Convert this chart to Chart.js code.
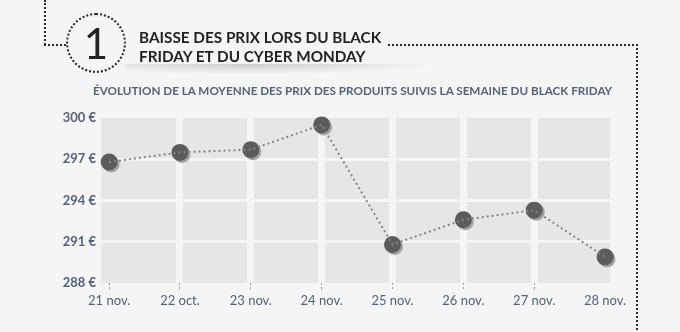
<!DOCTYPE html>
<html>
<head>
<meta charset="utf-8">
<script src="https://cdn.jsdelivr.net/npm/chart.js@4"></script>
<style>
  html, body { margin: 0; padding: 0; background: #f5f5f5; }
  .wrap { position: relative; width: 680px; height: 332px; overflow: hidden; background: #f5f5f5; font-family: Lato, "Open Sans", sans-serif; }
  .wrap canvas { position: absolute; left: 0; top: 0; }
  .dot-v { position: absolute; border-left: 2px dotted #2a2a2a; width: 0; }
  .dot-h { position: absolute; border-top: 2px dotted #2a2a2a; height: 0; }
  .circle { position: absolute; left: 66px; top: 13px; width: 56px; height: 56px; border: 2px dotted #2a2a2a; border-radius: 50%; text-align: center; font-size: 42px; font-weight: 400; line-height: 56px; color: #222; }
  .title { position: absolute; left: 139px; top: 28px; font-size: 15.3px; font-weight: 700; line-height: 19px; color: #222; }
  .shade { position: absolute; left: 125px; top: 64px; width: 310px; height: 10px; background: radial-gradient(ellipse at 40% 0%, rgba(0,0,0,0.16), rgba(0,0,0,0) 70%); }
  .subtitle { position: absolute; left: 93px; top: 83px; font-size: 11.7px; font-weight: 700; color: #53627a; white-space: nowrap; }
</style>
</head>
<body>
<div class="wrap">
  <canvas id="priceChart" width="680" height="332"></canvas>
  <div class="dot-v" style="left:44px; top:0; height:45px;"></div>
  <div class="dot-h" style="left:44px; top:44px; width:22px;"></div>
  <div class="circle">1</div>
  <div class="title">BAISSE DES PRIX LORS DU BLACK<br>FRIDAY ET DU CYBER MONDAY</div>
  <div class="dot-h" style="left:388px; top:44px; width:250px;"></div>
  <div class="dot-v" style="left:636px; top:44px; height:290px;"></div>
  <div class="shade"></div>
  <div class="subtitle">ÉVOLUTION DE LA MOYENNE DES PRIX DES PRODUITS SUIVIS LA SEMAINE DU BLACK FRIDAY</div>
</div>
<script>
  "use strict";

  const labels = ["21 nov.", "22 oct.", "23 nov.", "24 nov.", "25 nov.", "26 nov.", "27 nov.", "28 nov."];
  const prices = [296.8, 297.5, 297.7, 299.5, 290.8, 292.6, 293.3, 289.9];
  const yTicks = [288, 291, 294, 297, 300];

  const bg = "#f5f5f5";
  const textColor = "#53627a";

  Chart.defaults.font.family = "Lato, 'Open Sans', sans-serif";

  const points = prices.map((v, i) => ({ x: i, y: v }));

  // gray plot background
  const plotBg = {
    id: "plotBg",
    beforeDraw: (chart) => {
      const { ctx, chartArea: { top, bottom, left, right } } = chart;
      ctx.save();
      ctx.fillStyle = "#e6e6e6";
      ctx.fillRect(left, top, right - left, bottom - top);
      ctx.restore();
    },
  };

  // shadow under the round markers
  const markerShadow = {
    id: "markerShadow",
    beforeDatasetDraw: (chart, args) => {
      if (args.index !== 1) return;
      const ctx = chart.ctx;
      ctx.save();
      ctx.shadowColor = "#a3a3a3";
      ctx.shadowOffsetX = 2;
      ctx.shadowOffsetY = 2;
      ctx.shadowBlur = 0;
    },
    afterDatasetDraw: (chart, args) => {
      if (args.index !== 1) return;
      chart.ctx.restore();
    },
  };

  new Chart(document.getElementById("priceChart"), {
    type: "scatter",
    data: {
      datasets: [
        {
          data: points,
          showLine: true,
          borderColor: "#858585",
          borderWidth: 2,
          borderDash: [2, 3],
          pointRadius: 0,
          clip: false,
        },
        {
          data: points,
          showLine: false,
          backgroundColor: "#5c5c5c",
          borderWidth: 0,
          pointRadius: 8.5,
          pointHoverRadius: 8.5,
          clip: false,
        },
      ],
    },
    options: {
      responsive: false,
      animation: false,
      layout: {
        padding: { top: 118, right: 70, bottom: 0, left: 0 },
      },
      plugins: {
        legend: { display: false },
        tooltip: { enabled: false },
      },
      scales: {
        x: {
          type: "linear",
          min: -0.115,
          max: 7.07,
          afterBuildTicks: (scale) => {
            scale.ticks = labels.map((l, i) => ({ value: i }));
          },
          afterFit: (scale) => {
            scale.height = 49;
          },
          border: { display: false },
          grid: {
            color: (c) => (c.tick && c.tick.value > 0 && c.tick.value < 7 ? bg : "rgba(0,0,0,0)"),
            lineWidth: 7,
            tickLength: 7,
            tickWidth: 1,
            tickColor: (c) => (c.tick && c.tick.value < 7 ? "#9a9a9a" : "rgba(0,0,0,0)"),
            tickBorderDash: [2, 2],
          },
          ticks: {
            autoSkip: false,
            maxRotation: 0,
            padding: 3,
            color: textColor,
            font: { size: 13 },
            callback: (v) => labels[v],
          },
        },
        y: {
          min: 288,
          max: 300,
          afterBuildTicks: (scale) => {
            scale.ticks = yTicks.map((v) => ({ value: v }));
          },
          afterFit: (scale) => {
            scale.width = 101;
          },
          border: { display: false },
          grid: {
            color: (c) => (c.tick && c.tick.value > 288 && c.tick.value < 300 ? bg : "rgba(0,0,0,0)"),
            lineWidth: 3,
            drawTicks: false,
          },
          ticks: {
            padding: 5,
            color: textColor,
            font: { size: 13, weight: "bold" },
            callback: (v) => v + " €",
          },
        },
      },
    },
    plugins: [plotBg, markerShadow],
  });
</script>
</body>
</html>
